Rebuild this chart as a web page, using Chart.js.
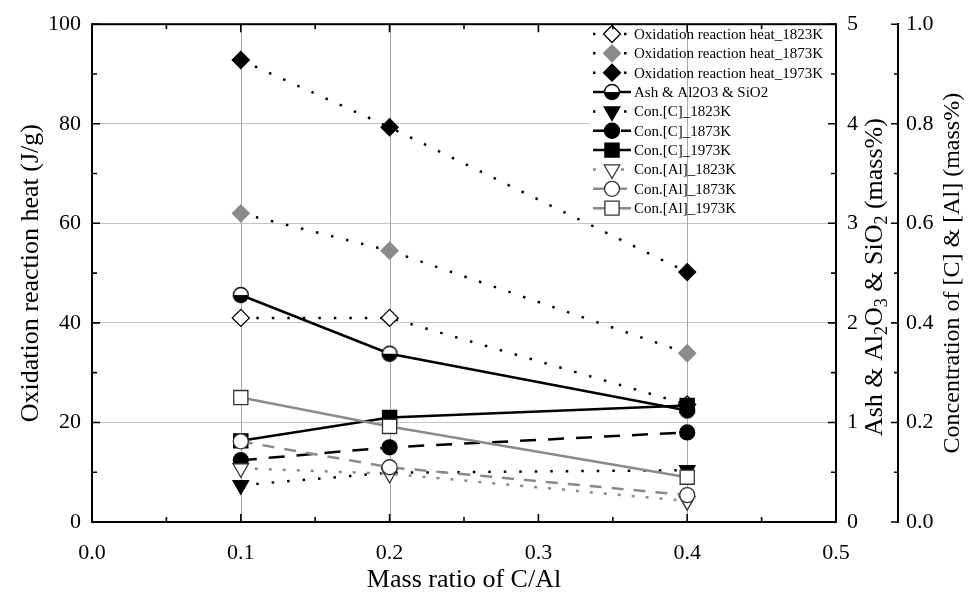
<!DOCTYPE html>
<html>
<head>
<meta charset="utf-8">
<title>Oxidation reaction heat vs C/Al</title>
<script src="https://cdn.jsdelivr.net/npm/chart.js@4.4.1/dist/chart.umd.min.js"></script>
<style>
  html, body { margin: 0; padding: 0; background: #fff; }
  #wrap { width: 976px; height: 601px; }
</style>
</head>
<body>
<div id="wrap"><canvas id="heatChart" width="976" height="601"></canvas></div>
<script>
// mass ratio C/Al on the x axis
const massRatio = [0.1, 0.2, 0.4];

// oxidation reaction heat, J/g (left axis)
const heat1823 = [41.0, 41.0, 23.6];
const heat1873 = [62.0, 54.5, 33.9];
const heat1973 = [92.8, 79.3, 50.2];

// ash & Al2O3 & SiO2, mass% (first right axis)
const ashOxide = [2.28, 1.69, 1.12];

// dissolved [C] and [Al], mass% (second right axis)
const conC1823 = [0.074, 0.099, 0.104];
const conC1873 = [0.124, 0.150, 0.180];
const conC1973 = [0.163, 0.210, 0.234];
const conAl1823 = [0.108, 0.097, 0.042];
const conAl1873 = [0.162, 0.110, 0.054];
const conAl1973 = [0.250, 0.192, 0.090];

const xTicks = [0, 0.1, 0.2, 0.3, 0.4, 0.5];

const FONT = "'Liberation Serif', 'Times New Roman', serif";
const GREY = "#8a8a8a";
const DOTS = [2.5, 13];

// half filled circle (white top, black bottom) for the ash series
function halfCircle(r) {
  const c = document.createElement("canvas");
  const s = Math.ceil(r * 2 + 3);
  c.width = s; c.height = s;
  const g = c.getContext("2d");
  const m = s / 2;
  g.fillStyle = "#fff";
  g.beginPath(); g.arc(m, m, r, 0, Math.PI * 2); g.fill();
  g.fillStyle = "#000";
  g.beginPath(); g.arc(m, m, r, 0, Math.PI); g.closePath(); g.fill();
  g.strokeStyle = "#000"; g.lineWidth = 1.3;
  g.beginPath(); g.arc(m, m, r, 0, Math.PI * 2); g.stroke();
  return c;
}

function series(label, values, axis, style) {
  return Object.assign({
    label: label,
    data: massRatio.map((x, i) => ({ x: x, y: values[i] })),
    yAxisID: axis,
    fill: false,
    tension: 0,
    borderWidth: 2.5,
    pointBorderWidth: 1.3,
    pointHoverRadius: 0
  }, style);
}

const datasets = [
  series("Oxidation reaction heat_1823K", heat1823, "y", {
    borderColor: "#000", borderDash: DOTS, pointStyle: "rectRot", pointRadius: 8.5,
    pointBackgroundColor: "#fff", pointBorderColor: "#000"
  }),
  series("Oxidation reaction heat_1873K", heat1873, "y", {
    borderColor: "#000", borderDash: DOTS, pointStyle: "rectRot", pointRadius: 8.5,
    pointBackgroundColor: GREY, pointBorderColor: GREY
  }),
  series("Oxidation reaction heat_1973K", heat1973, "y", {
    borderColor: "#000", borderDash: DOTS, pointStyle: "rectRot", pointRadius: 8.5,
    pointBackgroundColor: "#000", pointBorderColor: "#000"
  }),
  series("Ash & Al2O3 & SiO2", ashOxide, "y2", {
    borderColor: "#000", pointStyle: halfCircle(7.5), pointRadius: 8
  }),
  series("Con.[C]_1823K", conC1823, "y3", {
    borderColor: "#000", borderDash: DOTS, pointStyle: "triangle", rotation: 180, pointRadius: 9,
    pointBackgroundColor: "#000", pointBorderColor: "#000"
  }),
  series("Con.[C]_1873K", conC1873, "y3", {
    borderColor: "#000", borderDash: [16, 12], pointStyle: "circle", pointRadius: 7.5,
    pointBackgroundColor: "#000", pointBorderColor: "#000"
  }),
  series("Con.[C]_1973K", conC1973, "y3", {
    borderColor: "#000", pointStyle: "rect", pointRadius: 10,
    pointBackgroundColor: "#000", pointBorderColor: "#000"
  }),
  series("Con.[Al]_1823K", conAl1823, "y3", {
    borderColor: GREY, borderDash: [3, 11], pointStyle: "triangle", rotation: 180, pointRadius: 9,
    pointBackgroundColor: "#fff", pointBorderColor: "#333"
  }),
  series("Con.[Al]_1873K", conAl1873, "y3", {
    borderColor: GREY, borderDash: [12, 10], pointStyle: "circle", pointRadius: 7.5,
    pointBackgroundColor: "#fff", pointBorderColor: "#333"
  }),
  series("Con.[Al]_1973K", conAl1973, "y3", {
    borderColor: GREY, pointStyle: "rect", pointRadius: 10,
    pointBackgroundColor: "#fff", pointBorderColor: "#333"
  })
];
// later series sit on top of earlier ones
datasets.forEach((d, i) => { d.order = datasets.length - i; });

const LEGEND = { left: 590, top: 24, width: 243, height: 195, row0: 34, step: 19.35, lineX0: 593, lineX1: 631, markX: 612, textX: 634 };

function drawMarker(ctx, ds, x, y) {
  const style = ds.pointStyle;
  const r = ds.pointRadius;
  if (style instanceof HTMLCanvasElement) {
    ctx.drawImage(style, x - style.width / 2, y - style.height / 2);
    return;
  }
  ctx.save();
  ctx.fillStyle = ds.pointBackgroundColor;
  ctx.strokeStyle = ds.pointBorderColor;
  ctx.lineWidth = ds.pointBorderWidth;
  ctx.beginPath();
  if (style === "rectRot") {
    ctx.moveTo(x, y - r); ctx.lineTo(x + r, y); ctx.lineTo(x, y + r); ctx.lineTo(x - r, y);
  } else if (style === "rect") {
    const h = r * Math.SQRT1_2;
    ctx.rect(x - h, y - h, 2 * h, 2 * h);
  } else if (style === "circle") {
    ctx.arc(x, y, r, 0, Math.PI * 2);
  } else if (style === "triangle") {
    const a = (ds.rotation || 0) * Math.PI / 180;
    for (let k = 0; k < 3; k++) {
      const t = a + k * 2 * Math.PI / 3;
      const px = x + Math.sin(t) * r, py = y - Math.cos(t) * r;
      if (k === 0) ctx.moveTo(px, py); else ctx.lineTo(px, py);
    }
  }
  ctx.closePath();
  ctx.fill();
  ctx.stroke();
  ctx.restore();
}

const legendPlugin = {
  id: "insideLegend",
  beforeDatasetsDraw(chart) {
    const { ctx, chartArea, scales } = chart;
    ctx.save();
    ctx.fillStyle = "#fff";
    ctx.fillRect(LEGEND.left, LEGEND.top, LEGEND.width, LEGEND.height);
    // drop lines at the measured ratios
    ctx.strokeStyle = "#a8a8a8";
    ctx.lineWidth = 1;
    massRatio.forEach(v => {
      const px = Math.round(scales.x.getPixelForValue(v)) + 0.5;
      ctx.beginPath();
      ctx.moveTo(px, chartArea.top);
      ctx.lineTo(px, chartArea.bottom);
      ctx.stroke();
    });
    ctx.restore();
  },
  afterDatasetsDraw(chart) {
    const ctx = chart.ctx;
    chart.data.datasets.forEach((ds, i) => {
      const y = LEGEND.row0 + i * LEGEND.step;
      ctx.save();
      ctx.strokeStyle = ds.borderColor;
      ctx.lineWidth = ds.borderWidth;
      ctx.setLineDash(ds.borderDash || []);
      ctx.beginPath();
      ctx.moveTo(LEGEND.lineX0, y);
      ctx.lineTo(LEGEND.lineX1, y);
      ctx.stroke();
      ctx.restore();
      drawMarker(ctx, ds, LEGEND.markX, y);
      ctx.save();
      ctx.fillStyle = "#000";
      ctx.font = "15px " + FONT;
      ctx.textBaseline = "middle";
      ctx.fillText(ds.label, LEGEND.textX, y + 1);
      ctx.restore();
    });
  }
};

// text with subscript parts, centred at the origin
function drawRich(ctx, parts, size) {
  const sub = Math.round(size * 0.68);
  let total = 0;
  parts.forEach(p => {
    ctx.font = (p.sub ? sub : size) + "px " + FONT;
    p.w = ctx.measureText(p.t).width;
    total += p.w;
  });
  let x = -total / 2;
  parts.forEach(p => {
    ctx.font = (p.sub ? sub : size) + "px " + FONT;
    ctx.fillText(p.t, x, p.sub ? size * 0.28 : 0);
    x += p.w;
  });
}

function tickRun(ctx, from, to, step, majorEvery, pixel, drawOne) {
  const n = Math.round((to - from) / step);
  for (let k = 0; k <= n; k++) {
    const v = from + k * step;
    drawOne(pixel(v), k % majorEvery === 0 ? 8 : 5);
  }
}

const framePlugin = {
  id: "frameAndTitles",
  afterDraw(chart) {
    const { ctx, chartArea: a, scales } = chart;
    ctx.save();
    ctx.strokeStyle = "#000";
    ctx.lineWidth = 2;
    ctx.strokeRect(a.left, a.top, a.right - a.left, a.bottom - a.top);

    ctx.lineWidth = 1.6;
    ctx.beginPath();
    // bottom and top, pointing inward
    tickRun(ctx, 0, 0.5, 0.05, 2, v => scales.x.getPixelForValue(v), (px, len) => {
      ctx.moveTo(px, a.bottom); ctx.lineTo(px, a.bottom - len);
      ctx.moveTo(px, a.top); ctx.lineTo(px, a.top + len);
    });
    // left axis
    tickRun(ctx, 0, 100, 10, 2, v => scales.y.getPixelForValue(v), (py, len) => {
      ctx.moveTo(a.left, py); ctx.lineTo(a.left + len, py);
    });
    // ash axis on the right edge
    tickRun(ctx, 0, 5, 0.5, 2, v => scales.y2.getPixelForValue(v), (py, len) => {
      ctx.moveTo(a.right, py); ctx.lineTo(a.right - len, py);
    });
    // concentration axis
    const x3 = scales.y3.left;
    tickRun(ctx, 0, 1, 0.1, 2, v => scales.y3.getPixelForValue(v), (py, len) => {
      ctx.moveTo(x3, py); ctx.lineTo(x3 - len + 1, py);
    });
    ctx.stroke();

    ctx.fillStyle = "#000";
    ctx.textAlign = "left";
    ctx.textBaseline = "middle";
    const midY = (a.top + a.bottom) / 2;

    ctx.save();
    ctx.translate(31, midY);
    ctx.rotate(-Math.PI / 2);
    drawRich(ctx, [{ t: "Oxidation reaction heat (J/g)" }], 26);
    ctx.restore();

    ctx.save();
    ctx.translate((a.left + a.right) / 2, 580);
    drawRich(ctx, [{ t: "Mass ratio of C/Al" }], 26);
    ctx.restore();

    ctx.save();
    ctx.translate(875, midY + 4);
    ctx.rotate(-Math.PI / 2);
    drawRich(ctx, [
      { t: "Ash & Al" }, { t: "2", sub: true }, { t: "O" }, { t: "3", sub: true },
      { t: " & SiO" }, { t: "2", sub: true }, { t: " (mass%)" }
    ], 26);
    ctx.restore();

    ctx.save();
    ctx.translate(953, midY);
    ctx.rotate(-Math.PI / 2);
    drawRich(ctx, [{ t: "Concentration of [C] & [Al] (mass%)" }], 24);
    ctx.restore();

    ctx.restore();
  }
};

const tickFont = { family: FONT, size: 22 };

new Chart(document.getElementById("heatChart"), {
  type: "line",
  data: { datasets: datasets },
  options: {
    responsive: false,
    animation: false,
    devicePixelRatio: 1,
    layout: { padding: { top: 22, left: 0, right: 0, bottom: 0 } },
    plugins: { legend: { display: false }, tooltip: { enabled: false } },
    scales: {
      x: {
        type: "linear",
        min: 0, max: 0.5,
        afterBuildTicks: s => { s.ticks = xTicks.map(v => ({ value: v })); },
        ticks: { font: tickFont, color: "#000", padding: 10, maxRotation: 0, autoSkip: false,
          callback: v => v.toFixed(1) },
        grid: { display: false },
        border: { display: false },
        afterFit: s => { s.height = 79; }
      },
      y: {
        position: "left",
        min: 0, max: 100,
        ticks: { stepSize: 20, font: tickFont, color: "#000", padding: 11 },
        grid: {
          drawTicks: false,
          lineWidth: 1,
          color: c => (c.tick.value > 0 && c.tick.value < 100) ? "#c4c4c4" : "rgba(0,0,0,0)"
        },
        border: { display: false },
        afterFit: s => { s.width = 92; }
      },
      y2: {
        position: "right",
        weight: 0,
        min: 0, max: 5,
        ticks: { stepSize: 1, font: tickFont, color: "#000", padding: 11 },
        grid: { display: false, drawTicks: false },
        border: { display: false },
        afterFit: s => { s.width = 62; }
      },
      y3: {
        position: "right",
        weight: 1,
        min: 0, max: 1,
        ticks: { stepSize: 0.2, font: tickFont, color: "#000", padding: 8,
          callback: v => v.toFixed(1) },
        grid: { display: false, drawTicks: false },
        border: { display: true, color: "#000", width: 2 },
        afterFit: s => { s.width = 78; }
      }
    }
  },
  plugins: [legendPlugin, framePlugin]
});
</script>
</body>
</html>
